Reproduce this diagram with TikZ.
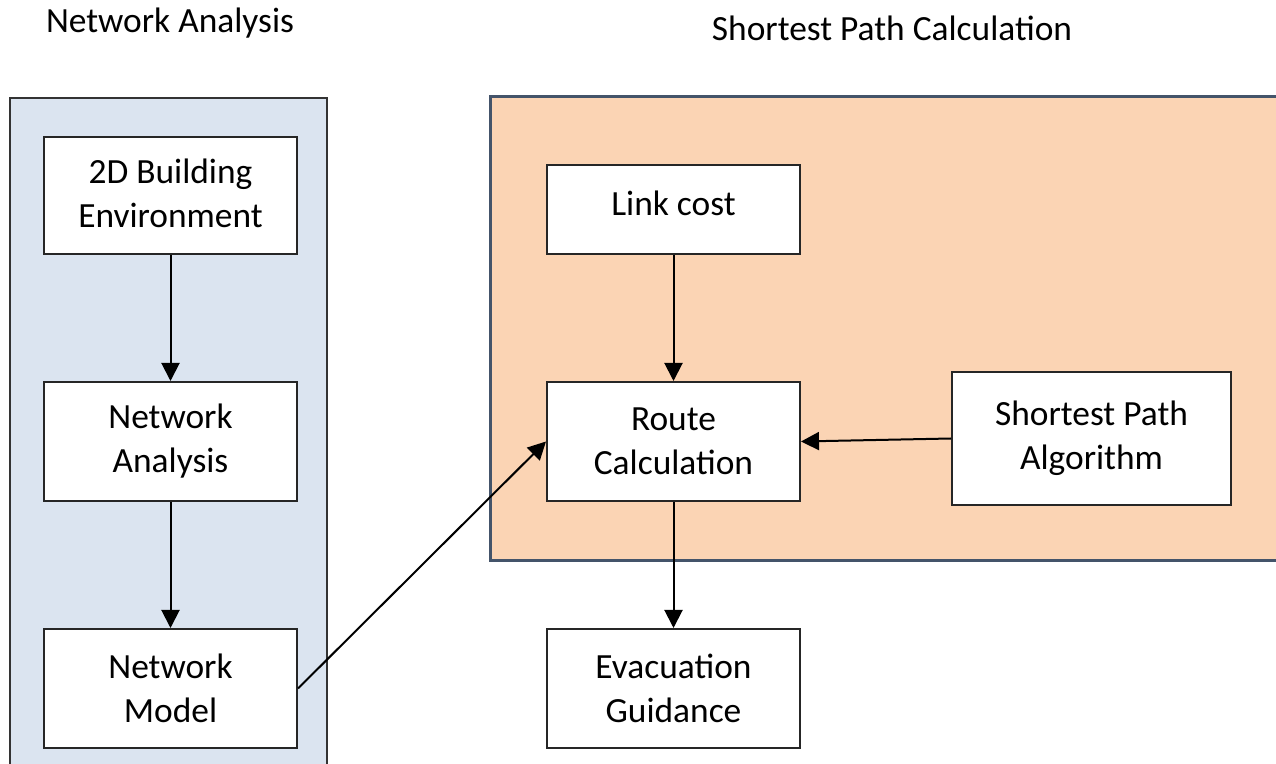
\documentclass[tikz,border=0pt]{standalone}
\usepackage{fontspec}
\setmainfont{Carlito}
\usetikzlibrary{arrows.meta,positioning}
\definecolor{panelblue}{HTML}{DBE4F0}
\definecolor{panelorange}{HTML}{FBD4B4}
\definecolor{panelrim}{HTML}{44546A}
\tikzset{
    block/.style={draw=black!85, fill=white, line width=1pt, align=center,
        minimum width=126.5pt, minimum height=59.5pt, inner sep=0pt,
        font=\fontsize{17.7}{22}\selectfont},
    flow/.style={draw=black, line width=1pt, -{Triangle[length=9pt,width=9pt]}},
    heading/.style={font=\fontsize{17.7}{22}\selectfont},
}

\begin{document}
\begin{tikzpicture}[x=0.5pt, y=-0.5pt]
	\useasboundingbox (0,0) rectangle (1276,764);
	\clip (0,0) rectangle (1276,764);
	% panels
	\draw[fill=panelblue, draw=black!80, line width=1pt] (10,98) rectangle (327,780);
	\draw[fill=panelorange, draw=panelrim, line width=1.5pt] (490,97) rectangle (1290,561);
	\node[heading] (titleleft) at (170,23) {Network Analysis};
	\node[heading] (titleright) at (892,28) {Shortest Path Calculation};
	% left column
	\node[block, minimum height=58.5pt, text depth=2pt] (env) at (170.5,195.5) {2D Building\\Environment};
	\node[block] (ana) at (170.5,441.5) {Network\\Analysis};
	\node[block] (model) at (170.5,688.5) {Network\\Model};
	% right column
	\node[block, minimum height=44.5pt, text depth=6pt] (link) at (673.5,209.5) {Link cost};
	\node[block] (route) at (673.5,441.5) {Route\\Calculation};
	\node[block, minimum width=139.5pt, minimum height=66.5pt] (algo) at (1091.5,438.5) {Shortest Path\\Algorithm};
	\node[block] (evac) at (673.5,688.5) {Evacuation\\Guidance};
	% connectors
	\draw[flow] (env) -- (ana);
	\draw[flow] (ana) -- (model);
	\draw[flow] (link) -- (route);
	\draw[flow] (algo.west) -- (route.east);
	\draw[flow] (model.east) -- (route.west);
	\draw[flow] (route) -- (evac);
\end{tikzpicture}
\end{document}
